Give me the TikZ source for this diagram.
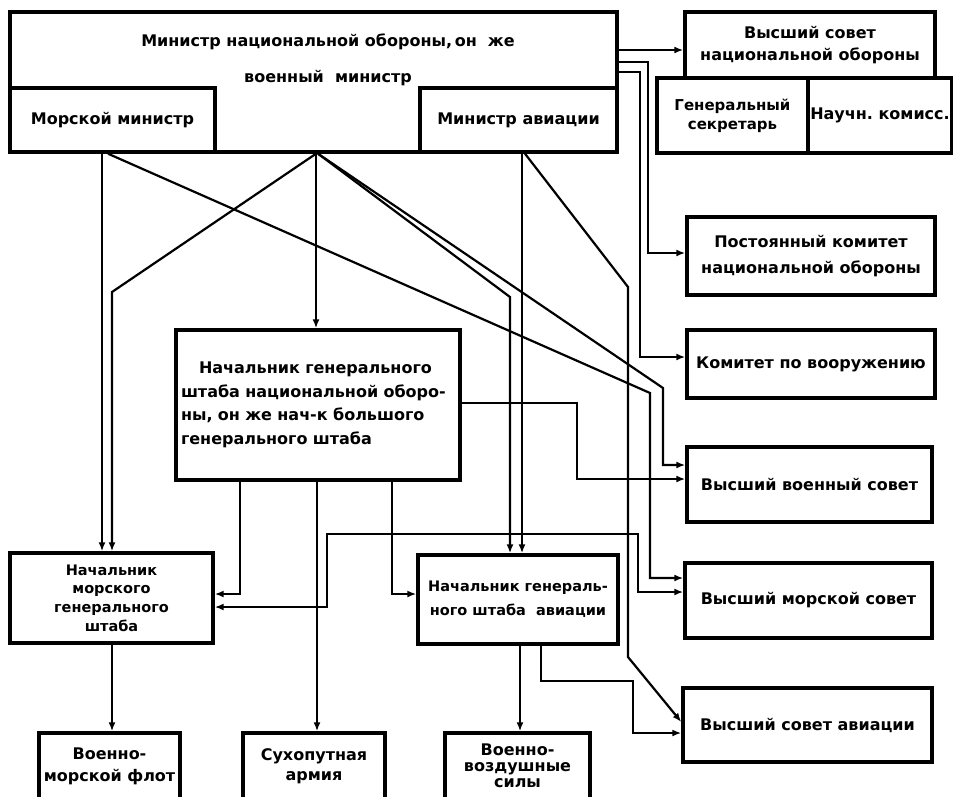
\documentclass[tikz,border=0pt]{standalone}
\usepackage{fontspec}
\setmainfont{DejaVu Sans}
\usetikzlibrary{arrows.meta}
\newcommand\fsz[2]{\fontsize{#1}{#2}\selectfont}
\tikzset{
	box/.style={draw, line width=3.4pt, inner sep=0pt, align=center, font=\bfseries\fsz{16}{22}},
	arr/.style={line width=2.2pt, -{Latex[length=9pt,width=7pt]}},
	arrb/.style={line width=2.2pt, {Latex[length=9pt,width=7pt]}-{Latex[length=9pt,width=7pt]}},
}
\begin{document}
\begin{tikzpicture}[x=1pt, y=-1pt]
	\useasboundingbox (0,0) rectangle (953,796);
	\node[box, minimum width=607, minimum height=140] (mno) at (313.5,82) {};
	\node[font=\bfseries\fsz{16}{22}, align=center] (mnotext) at (328,60) {Министр национальной обороны,\,он\ \ же\\[14pt]военный\ \ министр};
	\node[box, minimum width=205, minimum height=64] (mmin) at (112.5,120) {Морской министр};
	\node[box, minimum width=197, minimum height=64] (mav) at (518.5,120) {Министр авиации};
	
	\node[box, minimum width=250, minimum height=66] (vsno) at (810,45) {Высший совет\\национальной обороны};
	\node[box, minimum width=151, minimum height=75, font=\bfseries\fsz{15}{19}] (gsec) at (732.5,115.5) {Генеральный\\секретарь};
	\node[box, minimum width=144, minimum height=75] (nauch) at (880,115.5) {Научн.\ комисс.};
	\node[box, minimum width=248, minimum height=78, font=\bfseries\fsz{16}{26}] (post) at (811,256) {Постоянный комитет\\национальной обороны};
	\node[box, minimum width=248, minimum height=68] (komv) at (811,364) {Комитет по вооружению};
	\node[box, minimum width=245, minimum height=75] (vvs) at (809.5,484.5) {Высший военный совет};
	\node[box, minimum width=247, minimum height=75] (vms) at (808.5,600.5) {Высший морской совет};
	\node[box, minimum width=249, minimum height=74] (vsa) at (807.5,725) {Высший совет авиации};
	
	\node[box, minimum width=284, minimum height=150, text width=274, align=left, font=\bfseries\fsz{16}{23.5}] (ngsh) at (318,405) {\makebox[\linewidth][s]{\hspace*{18pt}Начальник генерального}\\\makebox[\linewidth][s]{штаба национальной оборо-}\\\makebox[\linewidth][s]{ны, он же нач-к большого}\\генерального штаба\par\vspace*{22pt}};
	\node[box, minimum width=203, minimum height=90, font=\bfseries\fsz{14.5}{18.7}] (nmgsh) at (111.5,598) {Начальник\\морского\\генерального\\штаба};
	\node[box, minimum width=200, minimum height=89, font=\bfseries\fsz{14.5}{24}] (ngsha) at (518,599.5) {Начальник генераль-\\ного штаба\ \ авиации};
	
	\node[box, minimum width=141, minimum height=66, font=\bfseries\fsz{16}{22}] (vmf) at (109.5,766) {Военно-\\морской флот};
	\node[box, minimum width=142, minimum height=66, font=\bfseries\fsz{16}{20}] (suh) at (314,766) {Сухопутная\\армия};
	\node[box, minimum width=145, minimum height=66, font=\bfseries\fsz{16}{16}] (vvsil) at (517.5,766) {Военно-\\воздушные\\силы};
	
	\draw[arr] (mmin.south -| 102,0) -- (nmgsh.north -| 102,0);
	\draw[arr] (mmin.south -| 108,0) -- (650,393) -- (650,578) -- (vms.west |- 0,578);
	\draw[arr] (mno.south -| 316,0) -- (ngsh.north -| 316,0);
	\draw[arr] (mno.south -| 316,0) -- (112,292) -- (nmgsh.north -| 112,0);
	\draw[arr] (mno.south -| 318,0) -- (510,297) -- (ngsha.north -| 510,0);
	\draw[arr] (mno.south -| 318,0) -- (663,388) -- (663,465) -- (vvs.west |- 0,465);
	\draw[arr] (mav.south -| 522,0) -- (ngsha.north -| 522,0);
	\draw[arr] (mav.south -| 525,0) -- (628,287) -- (628,657) -- (vsa.west |- 0,722);
	
	\draw[arr] (mno.east |- 0,50) -- (vsno.west |- 0,50);
	\draw[arr] (mno.east |- 0,62) -- (648,62) -- (648,253) -- (post.west |- 0,253);
	\draw[arr] (mno.east |- 0,72) -- (640,72) -- (640,357) -- (komv.west |- 0,357);
	
	\draw[arr] (ngsh.east |- 0,403) -- (577,403) -- (577,479) -- (vvs.west |- 0,479);
	\draw[arr] (ngsh.south -| 240,0) -- (240,594) -- (nmgsh.east |- 0,594);
	\draw[arr] (ngsh.south -| 317,0) -- (suh.north -| 317,0);
	\draw[arr] (ngsh.south -| 392,0) -- (392,594) -- (ngsha.west |- 0,594);
	\draw[arrb] (nmgsh.east |- 0,607) -- (327,607) -- (327,534) -- (638,534) -- (638,592) -- (vms.west |- 0,592);
	
	\draw[arr] (nmgsh.south -| 112,0) -- (vmf.north -| 112,0);
	\draw[arr] (ngsha.south -| 520,0) -- (vvsil.north -| 520,0);
	\draw[arr] (ngsha.south -| 541,0) -- (541,681) -- (633,681) -- (633,733) -- (vsa.west |- 0,733);
\end{tikzpicture}
\end{document}
